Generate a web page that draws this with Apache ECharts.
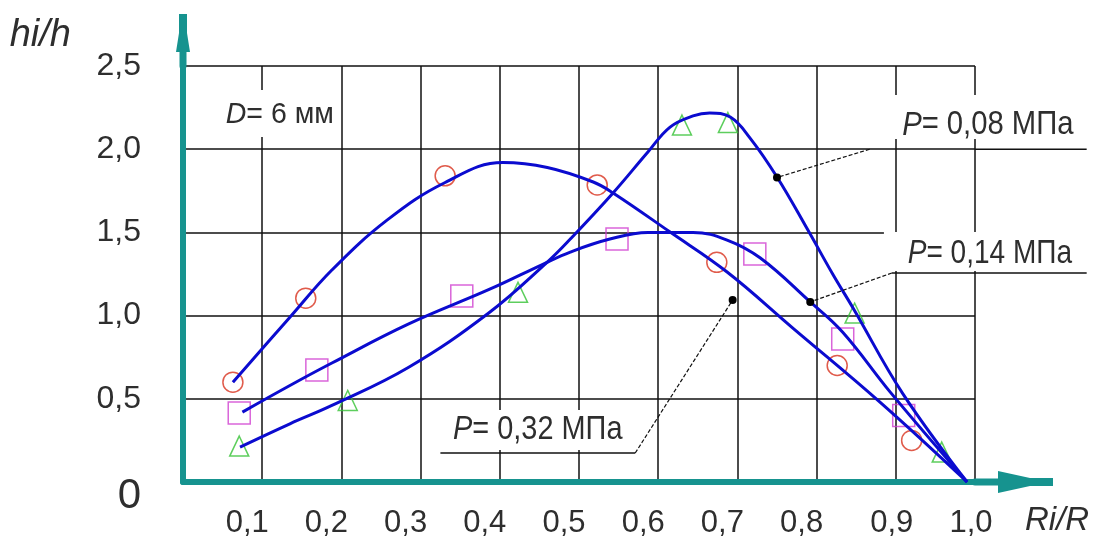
<!DOCTYPE html>
<html>
<head>
<meta charset="utf-8">
<script src="https://cdn.jsdelivr.net/npm/echarts@6/dist/echarts.min.js"></script>
<style>html,body{margin:0;padding:0;background:#fff;}#c{width:1108px;height:548px;}</style>
</head>
<body>
<div id="c"></div>
<script>
// ---- data ----
const xTicks = [0, 0.1, 0.2, 0.3, 0.4, 0.5, 0.6, 0.7, 0.8, 0.9, 1.0];
const yTicks = [0, 0.5, 1.0, 1.5, 2.0, 2.5];

// P = 0.32 MPa (circles) fitted curve
const curve032X = [0.063, 0.135, 0.188, 0.258, 0.331, 0.404, 0.46, 0.518, 0.543, 0.615, 0.687, 0.770, 0.88, 0.99];
const curve032Y = [0.60, 0.99, 1.274, 1.575, 1.80, 1.92, 1.89, 1.803, 1.737, 1.502, 1.262, 0.925, 0.48, 0];
const pts032X = [0.063, 0.155, 0.331, 0.523, 0.674, 0.826, 0.92];
const pts032Y = [0.60, 1.105, 1.84, 1.785, 1.32, 0.70, 0.25];

// P = 0.14 MPa (squares) fitted curve
const curve014X = [0.075, 0.135, 0.188, 0.285, 0.388, 0.455, 0.489, 0.539, 0.587, 0.644, 0.687, 0.729, 0.792, 0.833, 0.893, 0.99];
const curve014Y = [0.42, 0.58, 0.715, 0.95, 1.16, 1.31, 1.382, 1.46, 1.50, 1.50, 1.454, 1.346, 1.082, 0.90, 0.54, 0];
const pts014X = [0.071, 0.169, 0.352, 0.548, 0.722, 0.833, 0.910];
const pts014Y = [0.415, 0.673, 1.118, 1.46, 1.37, 0.86, 0.40];

// P = 0.08 MPa (triangles) fitted curve
const curve008X = [0.072, 0.135, 0.188, 0.285, 0.386, 0.46, 0.489, 0.543, 0.587, 0.615, 0.644, 0.665, 0.691, 0.716, 0.75, 0.789, 0.821, 0.846, 0.909, 0.99];
const curve008Y = [0.21, 0.35, 0.46, 0.69, 1.016, 1.322, 1.46, 1.737, 1.983, 2.133, 2.20, 2.218, 2.193, 2.067, 1.833, 1.514, 1.244, 1.046, 0.53, 0];
const pts008X = [0.071, 0.208, 0.423, 0.63, 0.688, 0.848, 0.958];
const pts008Y = [0.216, 0.49, 1.14, 2.145, 2.16, 1.015, 0.18];

const seriesLabels = ['0,08', '0,14', '0,32'];

// ---- styles ----
const FONT = "'Liberation Sans', Arial, sans-serif";
const TXT = '#2e2e2e';
const TEAL = '#16938f';
const BLUE = '#0b0bcf';
const GRIDC = '#111';

const zip = (xs, ys) => xs.map((x, i) => [x, ys[i]]);
const fmt = v => v.toFixed(1).replace('.', ',');

function curveSeries(name, xs, ys) {
  return {
    name, type: 'line', data: zip(xs, ys), smooth: 0.4, showSymbol: false, z: 4,
    lineStyle: { color: BLUE, width: 3 }, silent: true
  };
}
function markerSeries(name, xs, ys, symbol, size, color) {
  return {
    name, type: 'scatter', data: zip(xs, ys), symbol, symbolSize: size, z: 3,
    itemStyle: { color: 'rgba(0,0,0,0)', borderColor: color, borderWidth: 1.5 }, silent: true
  };
}

const option = {
  animation: false,
  backgroundColor: '#fff',
  grid: { left: 183, right: 133, top: 66, bottom: 66, containLabel: false },
  xAxis: {
    type: 'value', min: xTicks[0], max: xTicks[xTicks.length - 1], interval: 0.1,
    name: 'Ri/R', nameLocation: 'end', nameGap: 50,
    nameTextStyle: { fontFamily: FONT, fontStyle: 'italic', fontSize: 33, color: TXT, align: 'left', verticalAlign: 'top', padding: [22, 0, 0, 0] },
    axisLine: { show: true, onZero: false, lineStyle: { color: TEAL, width: 6 } },
    axisTick: { show: false },
    splitLine: { show: true, lineStyle: { color: GRIDC, width: 1.5 } },
    axisLabel: {
      margin: 26, fontFamily: FONT, fontSize: 31, color: TXT,
      formatter: v => v === 0 ? '' : (v < 0.85 ? '{a|' + fmt(v) + '}' : '{b|' + fmt(v) + '}'),
      rich: {
        a: { fontFamily: FONT, fontSize: 31, color: TXT, padding: [0, 30, 0, 0] },
        b: { fontFamily: FONT, fontSize: 31, color: TXT, padding: [0, 8, 0, 0] }
      }
    }
  },
  yAxis: {
    type: 'value', min: yTicks[0], max: yTicks[yTicks.length - 1], interval: 0.5,
    name: 'hi/h', nameLocation: 'end', nameGap: 31,
    nameTextStyle: { fontFamily: FONT, fontStyle: 'italic', fontSize: 38, color: TXT, align: 'right', verticalAlign: 'middle', padding: [0, 112, 0, 0] },
    axisLine: { show: true, onZero: false, lineStyle: { color: TEAL, width: 6 } },
    axisTick: { show: false },
    splitLine: { show: true, lineStyle: { color: GRIDC, width: 1.5 } },
    axisLabel: {
      margin: 42, fontFamily: FONT, fontSize: 32, color: TXT,
      formatter: v => v === 0 ? '{z|0}' : fmt(v),
      rich: { z: { fontFamily: FONT, fontSize: 42, color: TXT, padding: [28, 0, 0, 0] } }
    }
  },
  series: [
    markerSeries('pts032', pts032X, pts032Y, 'circle', 20, '#d8321e'),
    markerSeries('pts014', pts014X, pts014Y, 'rect', 22, '#cf3fcf'),
    markerSeries('pts008', pts008X, pts008Y, 'triangle', [19, 20], '#35c235'),
    curveSeries('P=0,32', curve032X, curve032Y),
    curveSeries('P=0,14', curve014X, curve014Y),
    curveSeries('P=0,08', curve008X, curve008Y)
  ]
};

const chart = echarts.init(document.getElementById('c'), null, { renderer: 'canvas' });
chart.setOption(option);

const P = (x, y) => chart.convertToPixel({ gridIndex: 0 }, [x, y]);

function box(x0, y0, x1, y1) {
  const a = P(x0, y0), b = P(x1, y1);
  return { type: 'rect', z: 1, silent: true,
    shape: { x: Math.min(a[0], b[0]), y: Math.min(a[1], b[1]), width: Math.abs(b[0] - a[0]), height: Math.abs(b[1] - a[1]) },
    style: { fill: '#fff' } };
}
function seg(x0, y0, x1, y1, dashed, w) {
  const a = P(x0, y0), b = P(x1, y1);
  return { type: 'line', z: 10, silent: true,
    shape: { x1: a[0], y1: a[1], x2: b[0], y2: b[1] },
    style: { stroke: GRIDC, lineWidth: w || 1.2, lineDash: dashed ? [4, 2] : null } };
}
function dot(x, y) {
  const a = P(x, y);
  return { type: 'circle', z: 10, silent: true, shape: { cx: a[0], cy: a[1], r: 4 }, style: { fill: '#000' } };
}
function label(x, y, ital, rest, size, sx) {
  const a = P(x, y);
  return { type: 'text', z: 10, silent: true, x: a[0], y: a[1], scaleX: sx, scaleY: 1,
    style: {
      text: '{i|' + ital + '}{n|' + rest + '}', verticalAlign: 'middle', align: 'left',
      rich: {
        i: { fontFamily: FONT, fontStyle: 'italic', fontSize: size, fill: TXT },
        n: { fontFamily: FONT, fontSize: size, fill: TXT }
      }
    } };
}

const axEnd = P(1.0, 0), axTop = P(0, 2.5);
const graphics = [
  // white gaps behind the annotations
  box(0.047, 2.356, 0.196, 2.073),
  box(0.885, 2.326, 1.135, 2.061),
  box(0.885, 1.502, 1.135, 1.268),
  box(0.331, 0.433, 0.564, 0.192),
  // annotation text
  label(0.054, 2.206, 'D', '= 6 мм', 30, 0.95),
  label(0.908, 2.145, 'P', '= ' + seriesLabels[0] + ' МПа', 34, 0.86),
  label(0.915, 1.370, 'P', '= ' + seriesLabels[1] + ' МПа', 33, 0.85),
  label(0.341, 0.3125, 'P', '= ' + seriesLabels[2] + ' МПа', 34, 0.85),
  // underlines and leaders
  seg(1.0, 2.0, 1.141, 2.0, false, 1.5),
  seg(0.867, 2.0, 0.75, 1.83, true),
  dot(0.75, 1.83),
  seg(0.895, 1.256, 1.141, 1.256, false, 1.5),
  seg(0.895, 1.256, 0.792, 1.082, true),
  dot(0.792, 1.082),
  seg(0.325, 0.174, 0.571, 0.174, false, 1.5),
  seg(0.571, 0.174, 0.694, 1.094, true),
  dot(0.694, 1.094),
  // axis extensions with arrow heads
  { type: 'line', z: 5, silent: true, shape: { x1: axEnd[0], y1: axEnd[1], x2: axEnd[0] + 70, y2: axEnd[1] }, style: { stroke: TEAL, lineWidth: 7, lineCap: 'round' } },
  { type: 'polygon', z: 5, silent: true, shape: { points: [[axEnd[0] + 23, axEnd[1] - 11], [axEnd[0] + 55, axEnd[1] - 4], [axEnd[0] + 78, axEnd[1] - 4], [axEnd[0] + 78, axEnd[1] + 4], [axEnd[0] + 55, axEnd[1] + 4], [axEnd[0] + 23, axEnd[1] + 11]] }, style: { fill: TEAL } },
  { type: 'line', z: 5, silent: true, shape: { x1: axTop[0], y1: axTop[1], x2: axTop[0], y2: axTop[1] - 45 }, style: { stroke: TEAL, lineWidth: 7, lineCap: 'round' } },
  { type: 'polygon', z: 5, silent: true, shape: { points: [[axTop[0] - 7, axTop[1] - 14], [axTop[0] - 4, axTop[1] - 33], [axTop[0] - 4, axTop[1] - 52], [axTop[0] + 4, axTop[1] - 52], [axTop[0] + 4, axTop[1] - 33], [axTop[0] + 7, axTop[1] - 14]] }, style: { fill: TEAL } }
];
chart.setOption({ graphic: graphics });
</script>
</body>
</html>
